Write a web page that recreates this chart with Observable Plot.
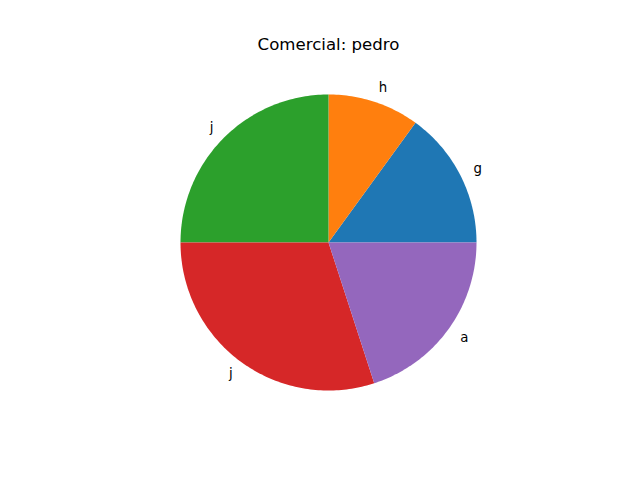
<!DOCTYPE html>
<html>
<head>
<meta charset="utf-8">
<script src="https://cdn.jsdelivr.net/npm/d3@7"></script>
<script src="https://cdn.jsdelivr.net/npm/@observablehq/plot@0.6"></script>
<style>
  html, body { margin: 0; padding: 0; background: #fff; }
  #chart svg { display: block; }
</style>
</head>
<body>
<div id="chart"></div>
<script>
const title = "Comercial: pedro";
const labels = ["g", "h", "j", "j", "a"];
const values = [3, 2, 5, 6, 4];
const colors = ["#1f77b4", "#ff7f0e", "#2ca02c", "#d62728", "#9467bd"];

const total = d3.sum(values);
const polys = [];
const labelPts = [];
let start = 0;
values.forEach((v, i) => {
  const a0 = start / total * 2 * Math.PI;
  const a1 = (start + v) / total * 2 * Math.PI;
  start += v;
  const n = Math.max(2, Math.ceil((a1 - a0) / (Math.PI / 180)));
  polys.push({i, x: 0, y: 0, color: colors[i]});
  for (let k = 0; k <= n; k++) {
    const a = a0 + (a1 - a0) * k / n;
    polys.push({i, x: Math.cos(a), y: Math.sin(a), color: colors[i]});
  }
  polys.push({i, x: 0, y: 0, color: colors[i]});
  const m = (a0 + a1) / 2;
  labelPts.push({label: labels[i], x: 1.1 * Math.cos(m), y: 1.1 * Math.sin(m)});
});

const R = 148, cx = 328, cy = 242, W = 640, H = 480;
const chart = Plot.plot({
  width: W, height: H,
  margin: 0,
  x: {domain: [-cx / R, (W - cx) / R], axis: null},
  y: {domain: [-(H - cy) / R, cy / R], axis: null},
  style: {fontFamily: "DejaVu Sans", background: "#fff"},
  marks: [
    Plot.line(polys, {x: "x", y: "y", z: "i", fill: "color", stroke: "none", curve: "linear-closed"}),
    Plot.text(labelPts.filter(d => d.x >= 0), {x: "x", y: "y", text: "label", textAnchor: "start", fontSize: 13.33, fill: "#000"}),
    Plot.text(labelPts.filter(d => d.x < 0), {x: "x", y: "y", text: "label", textAnchor: "end", fontSize: 13.33, fill: "#000"}),
    Plot.text([title], {frameAnchor: "top", text: d => d, dx: 8, dy: 49, lineAnchor: "bottom", fontSize: 16.6, fill: "#000"})
  ]
});
document.getElementById("chart").appendChild(chart);
</script>
</body>
</html>
